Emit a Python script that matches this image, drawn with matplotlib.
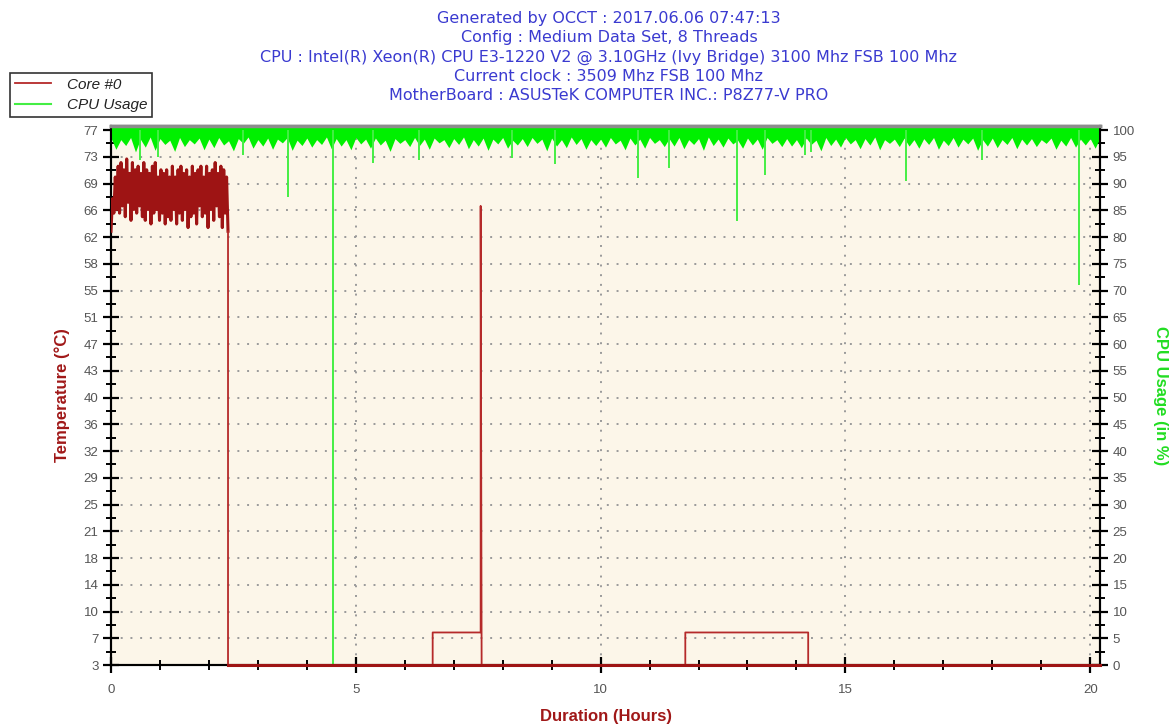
import matplotlib
matplotlib.use('Agg')
import matplotlib.pyplot as plt
from matplotlib.lines import Line2D
import numpy as np

plt.rcParams['font.family'] = ['Liberation Sans', 'DejaVu Sans']

W, H = 1171, 726

# === DATA ===
header_lines = [
    "Generated by OCCT : 2017.06.06 07:47:13",
    "Config : Medium Data Set, 8 Threads",
    "CPU : Intel(R) Xeon(R) CPU E3-1220 V2 @ 3.10GHz (Ivy Bridge) 3100 Mhz FSB 100 Mhz",
    "Current clock : 3509 Mhz FSB 100 Mhz",
    "MotherBoard : ASUSTeK COMPUTER INC.: P8Z77-V PRO",
]

temp_tick_labels = ["3", "7", "10", "14", "18", "21", "25", "29", "32", "36", "40",
                    "43", "47", "51", "55", "58", "62", "66", "69", "73", "77"]
usage_ticks = list(range(0, 101, 5))
hour_ticks = [0, 5, 10, 15, 20]

# Core #0 temperature: noisy load phase (0 - 2.39 h)
load_end = 2.39
load_temps = [63.0, 67.5, 65.5, 70.5, 66.0, 72.0, 65.5, 72.5, 66.5, 71.5, 65.0, 73.0,
              67.0, 71.0, 64.5, 72.5, 66.0, 71.5, 65.5, 72.0, 66.5, 71.0, 65.0, 72.5,
              64.5, 71.5, 66.0, 71.0, 64.0, 72.0, 65.5, 72.5, 66.0, 70.5, 64.5, 71.5,
              65.5, 71.0, 64.0, 71.5, 65.0, 70.5, 64.5, 72.0, 66.0, 70.5, 64.0, 71.5,
              65.5, 72.0, 64.5, 71.0, 66.0, 71.5, 63.5, 70.5, 65.0, 72.0, 65.5, 71.0,
              64.0, 71.5, 66.5, 72.0, 65.0, 70.5, 65.5, 72.0, 63.5, 71.0, 66.0, 71.5,
              64.5, 72.5, 66.5, 71.0, 65.0, 72.0, 63.5, 71.5, 65.5, 70.5, 63.0]
# Core #0 temperature after the load phase (step trace)
idle_hours = [2.39, 2.39, 6.57, 6.57, 7.55, 7.55, 7.57, 11.73, 11.73, 14.24, 14.24, 20.2]
idle_temps = [63.0, 3.0, 3.0, 7.5, 7.5, 66.5, 3.0, 3.0, 7.5, 7.5, 3.0, 3.0]

# CPU usage: lower edge of the dense band, one value every 0.1 h
cpu_step = 0.1
cpu_low = [
    98.5, 96.4, 98.2, 97.1, 98.6, 95.9, 98.3, 96.8, 98.7, 96.2,
    98.4, 97.3, 98.1, 96.0, 98.6, 96.9, 98.2, 97.4, 98.5, 96.3,
    98.3, 96.7, 98.6, 97.2, 98.0, 96.1, 98.4, 97.5, 98.7, 96.6,
    98.2, 97.0, 98.5, 96.4, 98.3, 97.6, 98.6, 96.2, 98.1, 97.1,
    98.5, 96.8, 98.2, 97.3, 98.7, 96.5, 98.4, 97.0, 98.2, 96.3,
    98.6, 97.4, 98.3, 96.6, 98.5, 97.2, 98.1, 96.0, 98.4, 97.5,
    98.2, 96.9, 98.6, 97.1, 98.3, 96.4, 98.5, 97.6, 98.2, 96.7,
    98.4, 97.3, 98.7, 96.5, 98.2, 97.0, 98.5, 96.2, 98.3, 97.4,
    98.6, 96.6, 98.1, 97.2, 98.4, 96.9, 98.6, 97.5, 98.3, 96.1,
    98.5, 97.0, 98.2, 96.7, 98.7, 97.3, 98.4, 96.4, 98.2, 97.1,
    98.3, 96.8, 98.6, 97.4, 98.1, 96.3, 98.5, 97.2, 98.3, 96.6,
    98.6, 97.5, 98.2, 96.9, 98.4, 97.0, 98.6, 96.5, 98.2, 97.3,
    98.4, 96.2, 98.7, 97.1, 98.3, 96.8, 98.5, 97.4, 98.1, 96.6,
    98.5, 97.2, 98.3, 96.4, 98.6, 97.5, 98.2, 96.9, 98.4, 97.0,
    98.2, 96.7, 98.5, 97.3, 98.1, 96.1, 98.6, 97.1, 98.3, 96.8,
    98.6, 97.4, 98.2, 96.5, 98.4, 97.2, 98.7, 96.3, 98.2, 97.5,
    98.3, 96.9, 98.5, 97.0, 98.2, 96.6, 98.4, 97.3, 98.6, 96.4,
    98.1, 97.1, 98.6, 96.8, 98.3, 97.4, 98.5, 96.2, 98.2, 97.0,
    98.5, 96.7, 98.2, 97.3, 98.6, 96.5, 98.3, 97.2, 98.4, 96.9,
    98.2, 97.5, 98.5, 96.4, 98.1, 97.0, 98.6, 96.8, 98.3, 97.2,
    98.4, 96.6, 98.5,
]
# CPU usage: isolated drops
dip_hours = [0.6, 0.95, 2.7, 3.62, 4.53, 5.35, 6.3, 8.2, 9.07, 10.77, 11.4,
             12.79, 13.36, 14.17, 14.3, 16.24, 17.8, 19.77]
dip_usage = [94.4, 95.0, 95.3, 87.5, 0.0, 93.8, 94.4, 94.8, 93.6, 91.0, 92.9,
             83.0, 91.6, 95.3, 95.9, 90.5, 94.4, 71.0]

# === STYLE ===
RED = '#9E1414'
RED_THIN = '#B52A2A'
GREEN = '#00F000'
GREEN_THIN = '#44EE44'
BLUE = '#3A3AD0'
TICK_GREY = '#555555'
BG = '#FCF6E9'

X_MAX = 20.2
U_TOP = 100.75
T_LOW, T_SCALE = 3.0, 0.74   # temperature axis mapped on the usage axis

fig = plt.figure(figsize=(W / 100, H / 100), dpi=100)
fig.patch.set_facecolor('white')

ax = fig.add_axes([111 / W, 1 - 665 / H, (1100 - 111) / W, (665 - 126) / H])
ax.set_facecolor(BG)
ax2 = ax.twinx()

ax.set_xlim(0, X_MAX)
ax.set_ylim(T_LOW, T_LOW + T_SCALE * U_TOP)
ax2.set_ylim(0, U_TOP)

# grid (drawn on the temperature axis)
for u in usage_ticks[1:]:
    ax.axhline(T_LOW + T_SCALE * u, color='#9A9A9A', lw=1.4, ls=(0, (1, 4)), zorder=0.5)
for h in hour_ticks[1:]:
    ax.axvline(h, color='#9A9A9A', lw=1.4, ls=(0, (1, 4)), zorder=0.5)

# CPU usage
cpu_hours = np.arange(len(cpu_low)) * cpu_step
ax2.fill_between(cpu_hours, cpu_low, U_TOP, color=GREEN, lw=0, zorder=2)
ax2.vlines(dip_hours, dip_usage, 100, color=GREEN_THIN, lw=1.4, zorder=2)

# Core #0 temperature
load_hours = np.linspace(0, load_end, len(load_temps))
ax2.plot(load_hours, (np.array(load_temps) - T_LOW) / T_SCALE, color=RED, lw=2.2, zorder=3)
ax2.plot(idle_hours, (np.array(idle_temps) - T_LOW) / T_SCALE, color=RED_THIN, lw=1.3,
         zorder=3, clip_on=False)
ax2.plot([idle_hours[1], idle_hours[-1]], [0, 0], color=RED, lw=2.2, zorder=4, clip_on=False)

# ticks
ax.set_xticks(hour_ticks)
ax.set_xticks(np.arange(0, 21, 1), minor=True)
ax.set_yticks(T_LOW + T_SCALE * np.array(usage_ticks, dtype=float))
ax.set_yticklabels(temp_tick_labels)
ax.set_yticks(T_LOW + T_SCALE * (np.array(usage_ticks[:-1]) + 2.5), minor=True)
ax2.set_yticks(usage_ticks)
ax2.set_yticks(np.arange(2.5, 100, 5), minor=True)

for a in (ax, ax2):
    a.tick_params(which='major', direction='inout', length=12, width=1.6, color='black',
                  labelcolor=TICK_GREY, labelsize=9.5)
    a.tick_params(which='minor', direction='inout', length=7, width=1.4, color='black')
ax.tick_params(axis='x', pad=8)
ax.tick_params(axis='y', pad=3)
ax2.tick_params(axis='y', pad=3)

for a in (ax, ax2):
    a.spines['left'].set_color('black')
    a.spines['left'].set_linewidth(1.5)
    a.spines['bottom'].set_color('black')
    a.spines['bottom'].set_linewidth(1.5)
    a.spines['right'].set_color('black')
    a.spines['right'].set_linewidth(1.5)
    a.spines['top'].set_color('#8C8C8C')
    a.spines['top'].set_linewidth(2.5)

# axis labels
ax.set_xlabel('Duration (Hours)', color='#A01818', fontsize=12, fontweight='bold', labelpad=9)
ax.set_ylabel('Temperature (°C)', color='#A01818', fontsize=12, fontweight='bold', labelpad=10)
ax2.set_ylabel('CPU Usage (in %)', color='#22DD22', fontsize=12, fontweight='bold',
               rotation=270, labelpad=24)

# header
for i, line in enumerate(header_lines):
    fig.text(609 / W, 1 - (18 + 19.5 * i) / H, line, ha='center', va='center',
             color=BLUE, fontsize=11.5, family='DejaVu Sans')

# legend
handles = [Line2D([], [], color=RED_THIN, lw=1.3), Line2D([], [], color=GREEN_THIN, lw=1.5)]
leg = fig.legend(handles, ['Core #0', 'CPU Usage'], loc='upper left',
                 bbox_to_anchor=(10 / W, 1 - 73 / H), borderaxespad=0, frameon=True,
                 fancybox=False, edgecolor='#333333', framealpha=1,
                 prop={'style': 'italic', 'size': 11}, handlelength=2.4,
                 labelspacing=0.45, borderpad=0.3, handletextpad=1.0)
leg.get_frame().set_linewidth(1.2)
for t in leg.get_texts():
    t.set_color('#222222')

fig.savefig('out.png', dpi=100)
